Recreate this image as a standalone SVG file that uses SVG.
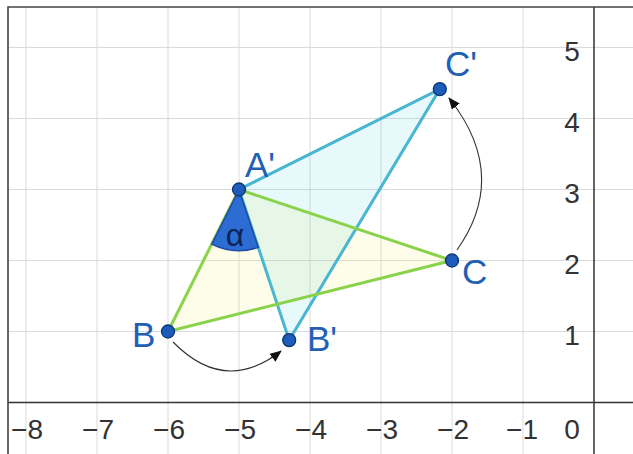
<svg xmlns="http://www.w3.org/2000/svg" width="633" height="454" viewBox="0 0 633 454">
<defs>
<style>
.grid{stroke:#dadada;stroke-width:1;fill:none}
.axis{stroke:#333;stroke-width:1.5;fill:none}
.frame{stroke:#444;stroke-width:1.6;fill:none}
.tick{font-family:"Liberation Sans",Arial,sans-serif;font-size:28px;fill:#333;text-anchor:middle}
.lbl{font-family:"Liberation Sans",Arial,sans-serif;font-size:35px;fill:#2260b4}
.pt{fill:#1d5cb8;stroke:#0c3574;stroke-width:1.3}
.green{stroke:#8ad24a;stroke-width:3;fill:none;stroke-linecap:round}
.cyan{stroke:#4ab6d2;stroke-width:3;fill:none;stroke-linecap:round}
.arc{stroke:#333;stroke-width:1.1;fill:none}
</style>
<marker id="ah" viewBox="0 0 12 10" refX="11" refY="5" markerWidth="12" markerHeight="10" markerUnits="userSpaceOnUse" orient="auto">
<path d="M0,0 L12,5 L0,10 Z" fill="#111"/>
</marker>
</defs>
<rect width="633" height="454" fill="#fff"/>
<g id="grid">
<path class="grid" d="M26,7V454M97,7V454M168,7V454M239,7V454M310,7V454M381,7V454M452,7V454M523,7V454M8,47.5H633M8,118.5H633M8,189.5H633M8,260.5H633M8,331.5H633"/>
<path class="axis" d="M8,402.5H633M594,7V454"/>
<path class="frame" d="M8,454V7H633"/>
</g>
<g id="ticks">
<text class="tick" x="27" y="439">−8</text>
<text class="tick" x="98" y="439">−7</text>
<text class="tick" x="169" y="439">−6</text>
<text class="tick" x="240" y="439">−5</text>
<text class="tick" x="311" y="439">−4</text>
<text class="tick" x="382" y="439">−3</text>
<text class="tick" x="453" y="439">−2</text>
<text class="tick" x="522" y="439">−1</text>
<text class="tick" x="572" y="439">0</text>
<text class="tick" x="572" y="345">1</text>
<text class="tick" x="572" y="274">2</text>
<text class="tick" x="572" y="203">3</text>
<text class="tick" x="572" y="132">4</text>
<text class="tick" x="572" y="61">5</text>
</g>
<g id="fills">
<polygon points="239,189.5 168,331.5 452,260.5" fill="#eef04a" fill-opacity="0.12"/>
<polygon points="239,189.5 289.2,340.1 439.8,89.1" fill="#4ad2e4" fill-opacity="0.13"/>
</g>
<g id="connectors">
<path class="cyan" d="M239,189.5L289.2,340.1L439.8,89.1Z"/>
<path class="green" d="M239,189.5L168,331.5L452,260.5Z"/>
<path class="arc" d="M173,342 Q225,395 281,351" marker-end="url(#ah)"/>
<path class="arc" d="M457,250 Q510,175 449,98" marker-end="url(#ah)"/>
</g>
<g id="angle-alpha">
<path d="M239,189.5 L211.7,244.1 A61,61 0 0 0 258.3,247.4 Z" fill="#2d6cd2" stroke="#1b4c9e" stroke-width="1.5"/>
<text x="235" y="246" font-family="Liberation Sans,Arial,sans-serif" font-size="32" fill="#0b2555" text-anchor="middle">α</text>
</g>
<g id="node-A1">
<circle class="pt" cx="239" cy="189.5" r="6.5"/>
<text class="lbl" x="245" y="177">A'</text>
</g>
<g id="node-B">
<circle class="pt" cx="168" cy="331.5" r="6.5"/>
<text class="lbl" x="132" y="347">B</text>
</g>
<g id="node-C">
<circle class="pt" cx="452" cy="260.5" r="6.5"/>
<text class="lbl" x="462" y="284">C</text>
</g>
<g id="node-B1">
<circle class="pt" cx="289.2" cy="340.1" r="6.5"/>
<text class="lbl" x="307" y="351">B'</text>
</g>
<g id="node-C1">
<circle class="pt" cx="439.8" cy="89.1" r="6.5"/>
<text class="lbl" x="445" y="76">C'</text>
</g>
</svg>
